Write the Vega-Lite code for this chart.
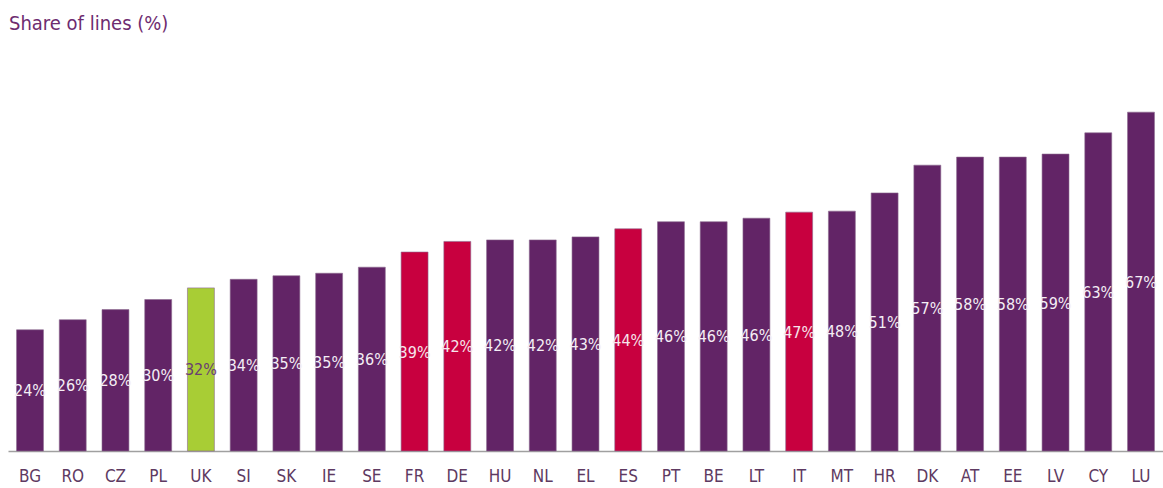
{
  "$schema": "https://vega.github.io/schema/vega-lite/v6.json",
  "width": 1155,
  "height": 353.5,
  "autosize": {"type": "none"},
  "padding": {"left": 8, "top": 97.5, "right": 0, "bottom": 37},
  "background": "white",
  "title": {
    "text": "Share of lines (%)",
    "anchor": "start",
    "frame": "group",
    "font": "'DejaVu Sans Condensed', 'Liberation Sans', sans-serif",
    "fontSize": 20,
    "fontWeight": "normal",
    "color": "#6e2c70",
    "offset": 64,
    "dx": 1
  },
  "config": {"view": {"stroke": null}},
  "data": {
    "values": [
      {"country": "BG", "value": 24, "label": "24%", "group": "other"},
      {"country": "RO", "value": 26, "label": "26%", "group": "other"},
      {"country": "CZ", "value": 28, "label": "28%", "group": "other"},
      {"country": "PL", "value": 30, "label": "30%", "group": "other"},
      {"country": "UK", "value": 32.3, "label": "32%", "group": "uk"},
      {"country": "SI", "value": 34, "label": "34%", "group": "other"},
      {"country": "SK", "value": 34.7, "label": "35%", "group": "other"},
      {"country": "IE", "value": 35.2, "label": "35%", "group": "other"},
      {"country": "SE", "value": 36.4, "label": "36%", "group": "other"},
      {"country": "FR", "value": 39.4, "label": "39%", "group": "highlight"},
      {"country": "DE", "value": 41.5, "label": "42%", "group": "highlight"},
      {"country": "HU", "value": 41.8, "label": "42%", "group": "other"},
      {"country": "NL", "value": 41.8, "label": "42%", "group": "other"},
      {"country": "EL", "value": 42.4, "label": "43%", "group": "other"},
      {"country": "ES", "value": 44, "label": "44%", "group": "highlight"},
      {"country": "PT", "value": 45.4, "label": "46%", "group": "other"},
      {"country": "BE", "value": 45.4, "label": "46%", "group": "other"},
      {"country": "LT", "value": 46.1, "label": "46%", "group": "other"},
      {"country": "IT", "value": 47.3, "label": "47%", "group": "highlight"},
      {"country": "MT", "value": 47.5, "label": "48%", "group": "other"},
      {"country": "HR", "value": 51.1, "label": "51%", "group": "other"},
      {"country": "DK", "value": 56.6, "label": "57%", "group": "other"},
      {"country": "AT", "value": 58.2, "label": "58%", "group": "other"},
      {"country": "EE", "value": 58.2, "label": "58%", "group": "other"},
      {"country": "LV", "value": 58.8, "label": "59%", "group": "other"},
      {"country": "CY", "value": 63, "label": "63%", "group": "other"},
      {"country": "LU", "value": 67.1, "label": "67%", "group": "other"}
    ]
  },
  "encoding": {
    "x": {
      "field": "country",
      "type": "nominal",
      "sort": null,
      "scale": {"paddingInner": 0.37, "paddingOuter": 0.2},
      "axis": {
        "title": null,
        "labelAngle": 0,
        "ticks": false,
        "domainColor": "#a0a0a0",
        "domainWidth": 1.5,
        "labelFont": "'DejaVu Sans Condensed', 'Liberation Sans', sans-serif",
        "labelFontSize": 17,
        "labelColor": "#5e3a62",
        "labelPadding": 17
      }
    }
  },
  "layer": [
    {
      "mark": {"type": "bar", "stroke": "#8c6a8e", "strokeWidth": 0.6},
      "encoding": {
        "y": {"field": "value", "type": "quantitative", "scale": {"domain": [0, 70]}, "axis": null},
        "color": {
          "field": "group",
          "type": "nominal",
          "scale": {"domain": ["other", "highlight", "uk"], "range": ["#622466", "#c8003f", "#a8cd35"]},
          "legend": null
        }
      }
    },
    {
      "mark": {"type": "text", "font": "'DejaVu Sans Condensed', 'Liberation Sans', sans-serif", "fontSize": 16, "baseline": "middle", "dy": 1},
      "encoding": {
        "y": {"field": "value", "type": "quantitative", "scale": {"domain": [0, 140]}, "axis": null},
        "text": {"field": "label"},
        "color": {
          "field": "group",
          "type": "nominal",
          "scale": {"domain": ["other", "highlight", "uk"], "range": ["#f4eef5", "#f6e6ec", "#6a3e72"]},
          "legend": null
        }
      }
    }
  ],
  "resolve": {"scale": {"y": "independent", "color": "independent"}}
}
